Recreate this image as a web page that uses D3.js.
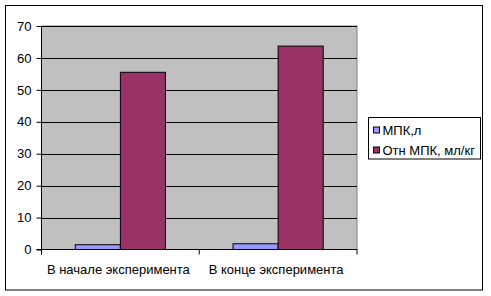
<!DOCTYPE html>
<html>
<head>
<meta charset="utf-8">
<script src="https://cdn.jsdelivr.net/npm/d3@7"></script>
<style>
  body { margin: 0; background: #fff; }
  text { font-family: "Liberation Sans", Arial, sans-serif; }
</style>
</head>
<body>
<div id="chart"></div>
<script>
var categories = ["В начале эксперимента", "В конце эксперимента"];
var seriesNames = ["МПК,л", "Отн МПК, мл/кг"];
var mpk = [1.5, 1.8];
var otnMpk = [55.5, 63.7];
var yTicks = [0, 10, 20, 30, 40, 50, 60, 70];
var colors = ["#9999FF", "#993366"];

var svgWidth = 491, svgHeight = 296;
var plot = {left: 41.5, top: 26, right: 357, bottom: 249.5};

var svg = d3.select("#chart").append("svg")
    .attr("width", svgWidth)
    .attr("height", svgHeight);

// outer chart border
svg.append("rect")
    .attr("x", 5.5).attr("y", 5.5)
    .attr("width", 477).attr("height", 284.5)
    .attr("fill", "#fff")
    .attr("stroke", "#000")
    .attr("stroke-width", 1);

var x0 = d3.scaleBand()
    .domain(categories)
    .range([plot.left, plot.right]);

// gap width 150% -> group occupies 2/(2+1.5) of band
var groupW = x0.bandwidth() * 2 / 3.5;
var x1 = d3.scaleBand()
    .domain([0, 1])
    .range([0, groupW]);

var y = d3.scaleLinear()
    .domain([0, 70])
    .range([plot.bottom, plot.top]);

// plot area background
svg.append("rect")
    .attr("x", plot.left).attr("y", plot.top)
    .attr("width", plot.right - plot.left)
    .attr("height", plot.bottom - plot.top)
    .attr("fill", "#C0C0C0")
    .attr("stroke", "#808080")
    .attr("stroke-width", 1);

// gridlines
svg.append("g").selectAll("line")
    .data(yTicks.filter(function(d){ return d > 0; }))
    .enter().append("line")
    .attr("x1", plot.left).attr("x2", plot.right)
    .attr("y1", function(d){ return Math.round(y(d)) + 0.5; })
    .attr("y2", function(d){ return Math.round(y(d)) + 0.5; })
    .attr("stroke", "#000");

// bars
var rows = categories.map(function(c, i){ return {cat: c, vals: [mpk[i], otnMpk[i]]}; });
var groups = svg.append("g").selectAll("g")
    .data(rows)
    .enter().append("g")
    .attr("transform", function(d){
        return "translate(" + (x0(d.cat) + (x0.bandwidth() - groupW) / 2) + ",0)";
    });
groups.selectAll("rect")
    .data(function(d){ return d.vals; })
    .enter().append("rect")
    .attr("x", function(d, i){ return x1(i); })
    .attr("width", x1.bandwidth())
    .attr("y", function(d){ return y(d); })
    .attr("height", function(d){ return y(0) - y(d); })
    .attr("fill", function(d, i){ return colors[i]; })
    .attr("stroke", "#000")
    .attr("stroke-width", 1);

// y axis
var yAxis = d3.axisLeft(y).tickValues(yTicks).tickSize(5).tickPadding(5);
var yG = svg.append("g")
    .attr("transform", "translate(" + plot.left + ",0)")
    .call(yAxis);
yG.select(".domain").attr("stroke", "#000").attr("d", "M0," + plot.top + "V" + plot.bottom);
yG.selectAll("text").style("font-size", "13px").attr("fill", "#000");

// x axis
var xG = svg.append("g")
    .attr("transform", "translate(0," + plot.bottom + ")");
xG.append("line")
    .attr("x1", plot.left - 5).attr("x2", plot.right)
    .attr("stroke", "#000");
xG.selectAll(".tk")
    .data(categories.concat(["end"]))
    .enter().append("line")
    .attr("class", "tk")
    .attr("x1", function(d, i){ return plot.left + i * x0.bandwidth(); })
    .attr("x2", function(d, i){ return plot.left + i * x0.bandwidth(); })
    .attr("y1", 0).attr("y2", 5)
    .attr("stroke", "#000");
xG.selectAll(".lbl")
    .data(categories)
    .enter().append("text")
    .attr("class", "lbl")
    .attr("x", function(d){ return x0(d) + x0.bandwidth() / 2 - 2; })
    .attr("y", 24.5)
    .attr("text-anchor", "middle")
    .style("font-size", "13px")
    .text(function(d){ return d; });

// legend
var legend = svg.append("g").attr("transform", "translate(368.5,117.5)");
legend.append("rect")
    .attr("width", 112).attr("height", 41.5)
    .attr("fill", "#fff").attr("stroke", "#000");
var items = legend.selectAll(".item")
    .data(seriesNames)
    .enter().append("g")
    .attr("transform", function(d, i){ return "translate(5," + (12.5 + i * 20) + ")"; });
items.append("rect")
    .attr("x", 0).attr("y", -3)
    .attr("width", 6).attr("height", 6)
    .attr("fill", function(d, i){ return colors[i]; })
    .attr("stroke", "#000");
items.append("text")
    .attr("x", 9).attr("y", 5)
    .style("font-size", "13px")
    .text(function(d){ return d; });
</script>
</body>
</html>
